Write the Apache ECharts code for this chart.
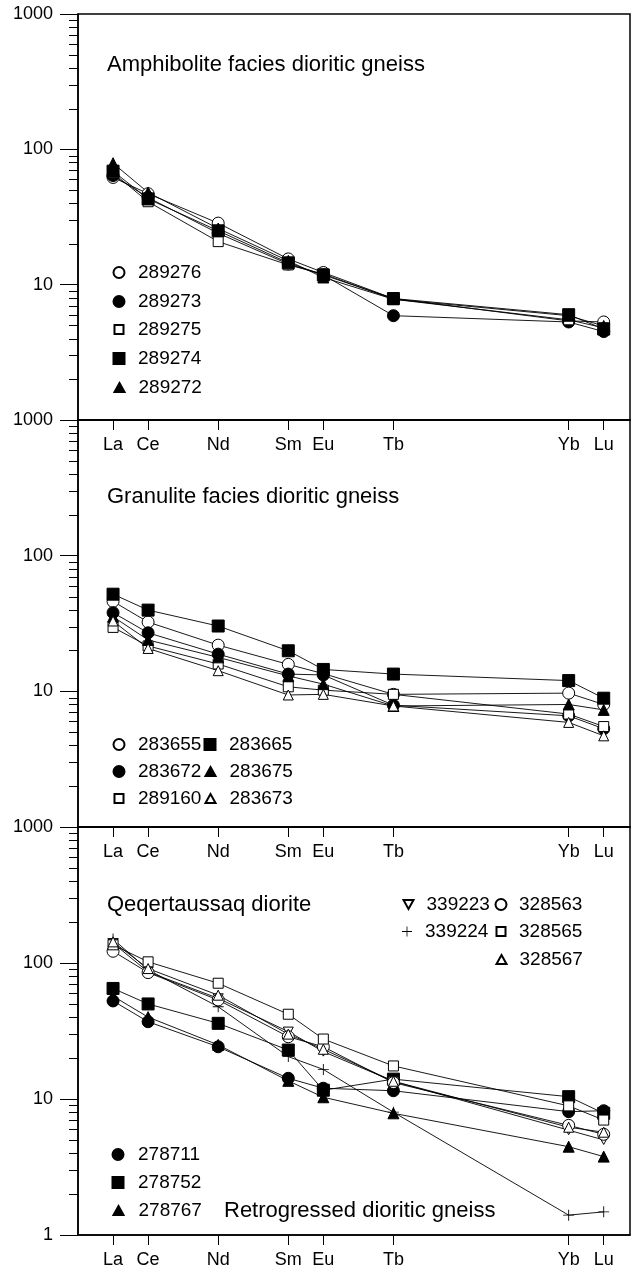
<!DOCTYPE html>
<html>
<head>
<meta charset="utf-8">
<script src="https://cdn.jsdelivr.net/npm/echarts@6/dist/echarts.min.js"></script>
<style>
  html, body { margin: 0; padding: 0; background: #fff; }
  #chart { width: 636px; height: 1272px; }
</style>
</head>
<body>
<div id="chart"></div>
<script>
// REE elements on the x axis, placed by atomic number
const elements = ['La', 'Ce', 'Nd', 'Sm', 'Eu', 'Tb', 'Yb', 'Lu'];
const atomicNumbers = [57, 58, 60, 62, 63, 65, 70, 71];
const yTickLabels = ['1', '10', '100', '1000'];

// Amphibolite facies dioritic gneiss (chondrite-normalised)
const s289276 = [62, 47, 28.5, 15.5, 12.3, 7.9, 5.4, 5.3];
const s289273 = [64, 44, 24, 14.2, 11.8, 5.9, 5.3, 4.5];
const s289275 = [67, 41, 20.8, 14.0, 12.0, 7.8, 5.5, 4.8];
const s289274 = [69, 43, 25, 14.5, 11.8, 7.9, 6.0, 4.7];
const s289272 = [79, 48, 26, 15, 11.3, 7.8, 5.9, 4.95];

// Granulite facies dioritic gneiss
const s283655 = [46, 32.4, 21.9, 15.8, 13.5, 9.5, 9.7, 8.0];
const s283672 = [38, 27, 18.8, 13.4, 13.2, 7.9, 6.6, 5.3];
const s289160 = [29.6, 21.6, 15.9, 10.8, 10.2, 9.5, 6.8, 5.5];
const s283665 = [52, 39.7, 30.3, 19.9, 14.5, 13.4, 12.0, 8.9];
const s283675 = [35.5, 23.9, 17.8, 13.0, 11.3, 7.8, 8.0, 7.3];
const s283673 = [33, 20.7, 14.2, 9.4, 9.5, 7.8, 5.9, 4.7];

// Qeqertaussaq diorite
const s339223 = [140, 86, 55, 31.3, 22.3, 13.5, 5.9, 5.0];
const s339224 = [150, 89, 47.7, 20.5, 16.5, 8.0, 1.40, 1.48];
const s328563 = [122, 85, 53.5, 28.7, 24.2, 13.2, 6.4, 5.5];
const s328565 = [136, 102, 71, 42, 27.6, 17.5, 8.9, 7.0];
const s328567 = [143, 91, 58, 30, 23.2, 13.5, 6.2, 5.7];
// Retrogressed dioritic gneiss
const s278711 = [52.6, 37, 24.2, 14.2, 12, 11.5, 8.07, 8.2];
const s278752 = [65, 50, 36, 22.9, 11.6, 14.0, 10.4, 7.85];
const s278767 = [57, 40, 25, 13.6, 10.3, 7.85, 4.46, 3.77];

const FONT = '"Liberation Sans", Arial, sans-serif';
const X_MIN = 56, X_MAX = 71.75;

// marker styles (plot symbol + legend icon)
const CIRCLE_PATH = 'path://M5,0A5,5,0,1,1,5,10A5,5,0,1,1,5,0Z';
const SQUARE_PATH = 'path://M0,0H10V10H0Z';
const TRI_PATH = 'path://M5,0L10,9H0Z';
const TRI_DOWN_PATH = 'path://M0,0L10,0L5,9Z';
const PLUS_PATH = 'path://M4.6,0H5.4V4.6H10V5.4H5.4V10H4.6V5.4H0V4.6H4.6Z';
const MARK = {
  circleOpen:   { symbol: 'circle', size: 12, fill: '#fff', icon: CIRCLE_PATH, iconSize: 11 },
  circleFilled: { symbol: 'circle', size: 12, fill: '#000', icon: CIRCLE_PATH, iconSize: 11 },
  squareOpen:   { symbol: 'rect', size: 10, fill: '#fff', icon: SQUARE_PATH, iconSize: 9 },
  squareFilled: { symbol: 'rect', size: 12, fill: '#000', icon: SQUARE_PATH, iconSize: 11 },
  triFilled:    { symbol: 'triangle', size: 11, fill: '#000', icon: TRI_PATH, iconSize: 9 },
  triOpen:      { symbol: 'triangle', size: 10, fill: '#fff', icon: TRI_PATH, iconSize: 9 },
  triDown:      { symbol: TRI_DOWN_PATH, size: 10, fill: '#fff', icon: TRI_DOWN_PATH, iconSize: 9 },
  plus:         { symbol: PLUS_PATH, size: 11, fill: '#000', noBorder: true, icon: PLUS_PATH, iconSize: 10 }
};

// panel rectangles
const panels = [
  { top: 14, height: 406, hideMin: true },
  { top: 420, height: 407, hideMin: true },
  { top: 827, height: 408, hideMin: false }
];

// sample -> values, panel, marker, legend position (marker centre x, text x, row centre y)
const samples = [
  ['289276', s289276, 0, 'circleOpen',   118, 137, 273],
  ['289273', s289273, 0, 'circleFilled', 118, 137, 302],
  ['289275', s289275, 0, 'squareOpen',   118, 137, 330],
  ['289274', s289274, 0, 'squareFilled', 118, 137, 359],
  ['289272', s289272, 0, 'triFilled',    118, 137, 388],

  ['283655', s283655, 1, 'circleOpen',   118, 137, 745],
  ['283672', s283672, 1, 'circleFilled', 118, 137, 772],
  ['289160', s289160, 1, 'squareOpen',   118, 137, 799],
  ['283665', s283665, 1, 'squareFilled', 209, 228, 745],
  ['283675', s283675, 1, 'triFilled',    209, 228, 772],
  ['283673', s283673, 1, 'triOpen',      209, 228, 799],

  ['278711', s278711, 2, 'circleFilled', 117, 137, 1155],
  ['278752', s278752, 2, 'squareFilled', 117, 137, 1183],
  ['278767', s278767, 2, 'triFilled',    117, 137, 1211],
  ['339223', s339223, 2, 'triDown',      407, 425, 905],
  ['339224', s339224, 2, 'plus',         407, 425, 932],
  ['328563', s328563, 2, 'circleOpen',   500, 518, 905],
  ['328565', s328565, 2, 'squareOpen',   500, 518, 932],
  ['328567', s328567, 2, 'triOpen',      500, 518, 960]
];

// minor log ticks (2..9 within each decade)
const minorTicks = [];
[1, 10, 100].forEach(d => { for (let k = 2; k <= 9; k++) minorTicks.push(k * d); });

const grids = panels.map(p => ({
  left: 78, right: 6, top: p.top, height: p.height,
  show: true, borderColor: '#000', borderWidth: 1.5, backgroundColor: 'transparent',
  containLabel: false, outerBoundsMode: 'none'
}));

const xAxes = panels.map((p, i) => ({
  type: 'value', gridIndex: i, min: X_MIN, max: X_MAX,
  axisLine: { show: true, lineStyle: { color: '#000', width: 1.5 } },
  axisTick: { show: true, inside: false, length: 10, customValues: atomicNumbers, lineStyle: { color: '#000', width: 1 } },
  axisLabel: {
    show: true, customValues: atomicNumbers, margin: 16, color: '#000', fontSize: 18, fontFamily: FONT,
    formatter: v => elements[atomicNumbers.indexOf(v)] || ''
  },
  splitLine: { show: false }
}));

const yAxes = panels.map((p, i) => ({
  type: 'log', logBase: 10, gridIndex: i, min: 1, max: 1000,
  axisLine: { show: true, lineStyle: { color: '#000', width: 1.5 } },
  axisTick: { show: true, inside: false, length: 18, lineStyle: { color: '#000', width: 1 } },
  axisLabel: {
    show: true, margin: 25, color: '#000', fontSize: 18, fontFamily: FONT,
    formatter: v => {
      const idx = Math.round(Math.log10(v));
      if (idx === 0 && p.hideMin) return '';
      return yTickLabels[idx];
    }
  },
  splitLine: { show: false }
}));

const series = [];
panels.forEach((p, i) => {
  series.push({
    type: 'custom', xAxisIndex: i, yAxisIndex: i, silent: true, clip: false, z: 1,
    data: minorTicks.map(v => [X_MIN, v]),
    renderItem: (params, api) => {
      const pt = api.coord([api.value(0), api.value(1)]);
      const y = Math.round(pt[1]) + 0.5;
      return { type: 'line', shape: { x1: pt[0] - 9, y1: y, x2: pt[0], y2: y },
               style: { stroke: '#000', lineWidth: 1 } };
    }
  });
});

samples.forEach(([name, vals, panel, mark]) => {
  const m = MARK[mark];
  series.push({
    type: 'line', name, xAxisIndex: panel, yAxisIndex: panel,
    data: atomicNumbers.map((z, k) => [z, vals[k]]),
    symbol: m.symbol, symbolSize: m.size, showSymbol: true, symbolKeepAspect: true,
    itemStyle: { color: m.fill, borderColor: '#000', borderWidth: m.noBorder ? 0 : 1, opacity: 1 },
    lineStyle: { color: '#000', width: 0.9 },
    emphasis: { disabled: true },
    z: 3
  });
});

// one legend per sample so every key sits where it belongs;
// the icon is laid out from its own left edge, the text after the full item width
const legends = samples.map(([name, , , mark, mx, tx, ry]) => {
  const m = MARK[mark];
  const h = m.iconSize;
  const w = 2 * (tx - mx - 5);
  return {
    data: [{ name, icon: m.icon }],
    left: mx - h / 2, top: ry - 10,
    itemWidth: w, itemHeight: h, itemGap: 0, padding: 0,
    symbolKeepAspect: true, selectedMode: false,
    textStyle: { fontSize: 19, color: '#000', fontFamily: FONT }
  };
});

const titleStyle = { fontSize: 22, fontWeight: 'normal', color: '#000', fontFamily: FONT };
const titles = [
  { text: 'Amphibolite facies dioritic gneiss', left: 107, top: 54, padding: 0, textStyle: titleStyle },
  { text: 'Granulite facies dioritic gneiss', left: 107, top: 486, padding: 0, textStyle: titleStyle },
  { text: 'Qeqertaussaq diorite', left: 107, top: 894, padding: 0, textStyle: titleStyle },
  { text: 'Retrogressed dioritic gneiss', left: 224, top: 1200, padding: 0, textStyle: titleStyle }
];

const chart = echarts.init(document.getElementById('chart'), null, { renderer: 'canvas' });
chart.setOption({
  animation: false,
  backgroundColor: '#fff',
  textStyle: { fontFamily: FONT },
  title: titles,
  legend: legends,
  grid: grids,
  xAxis: xAxes,
  yAxis: yAxes,
  series
});
</script>
</body>
</html>
